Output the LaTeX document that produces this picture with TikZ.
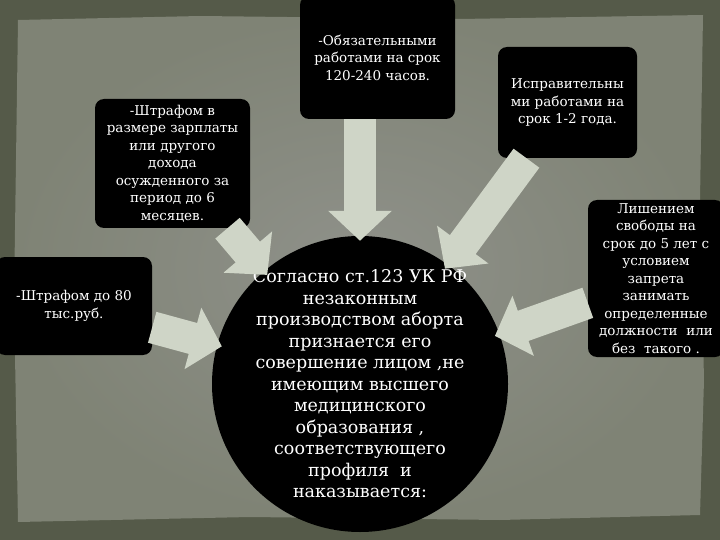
\documentclass[tikz,border=0pt]{standalone}
\usepackage{fontspec}
\setmainfont{DejaVu Serif}
\usetikzlibrary{arrows.meta}

\definecolor{framegray}{HTML}{555A49}
\definecolor{panelin}{HTML}{8F918A}
\definecolor{panelout}{HTML}{7F8375}
\definecolor{pointergray}{HTML}{CFD5C7}

\begin{document}
\begin{tikzpicture}
        [x=1pt, y=-1pt,
        penalty/.style={fill=black, rounded corners=9pt, text=white, align=center, inner sep=0pt,
                font=\fontsize{13.5}{17.5}\selectfont},
        article/.style={circle, fill=black, text=white, align=center, inner sep=-12pt,
                minimum size=296pt, font=\fontsize{17.5}{21.5}\selectfont},
        pointer/.style={line width=32pt, pointergray, -{Triangle[width=62pt,length=30pt]},
                shorten >=-5pt}]

        \useasboundingbox (0,0) rectangle (720,540);

        % frame and inner panel
        \fill[framegray] (0,0) rectangle (720,540);
        \shade[inner color=panelin, outer color=panelout]
                (18,20) -- (200,16) -- (460,19) -- (703,15) -- (700,200) -- (704,380)
                -- (700,515) -- (500,520) -- (250,517) -- (18,522) -- (14,300) -- cycle;

        % central article
        \node[article] (art) at (360,384) {Согласно ст.123 УК РФ\\ незаконным\\ производством аборта\\
                признается его\\ совершение лицом ,не\\ имеющим высшего\\ медицинского\\
                образования ,\\ соответствующего\\ профиля \ и\\ наказывается:};

        % penalties
        \node[penalty, minimum width=155pt, minimum height=123pt] (compul) at (377.5,57.5)
                {-Обязательными\\ работами на срок\\ 120-240 часов.};
        \node[penalty, minimum width=155pt, minimum height=129pt] (fine2) at (172.5,163.5)
                {-Штрафом в\\ размере зарплаты\\ или другого\\ дохода\\ осужденного за\\ период до 6\\ месяцев.};
        \node[penalty, minimum width=156pt, minimum height=98pt] (fine1) at (74,306)
                {-Штрафом до 80\\ тыс.руб.};
        \node[penalty, minimum width=139pt, minimum height=111pt] (correct) at (567.5,102.5)
                {Исправительны\\ ми работами на\\ срок 1-2 года.};
        \node[penalty, minimum width=136pt, minimum height=157pt] (prison) at (656,278.5)
                {Лишением\\ свободы на\\ срок до 5 лет с\\ условием\\ запрета\\ занимать\\
                определенные\\ должности \ или\\ без \ такого .};

        % pointers to the article
        \draw[pointer] (compul.south -| art.north) -- (art.north);
        \draw[pointer] (fine2) -- (art);
        \draw[pointer] (fine1) -- (art);
        \draw[pointer] (correct) -- (art);
        \draw[pointer] (prison) -- (art);

        \end{tikzpicture}
\end{document}
